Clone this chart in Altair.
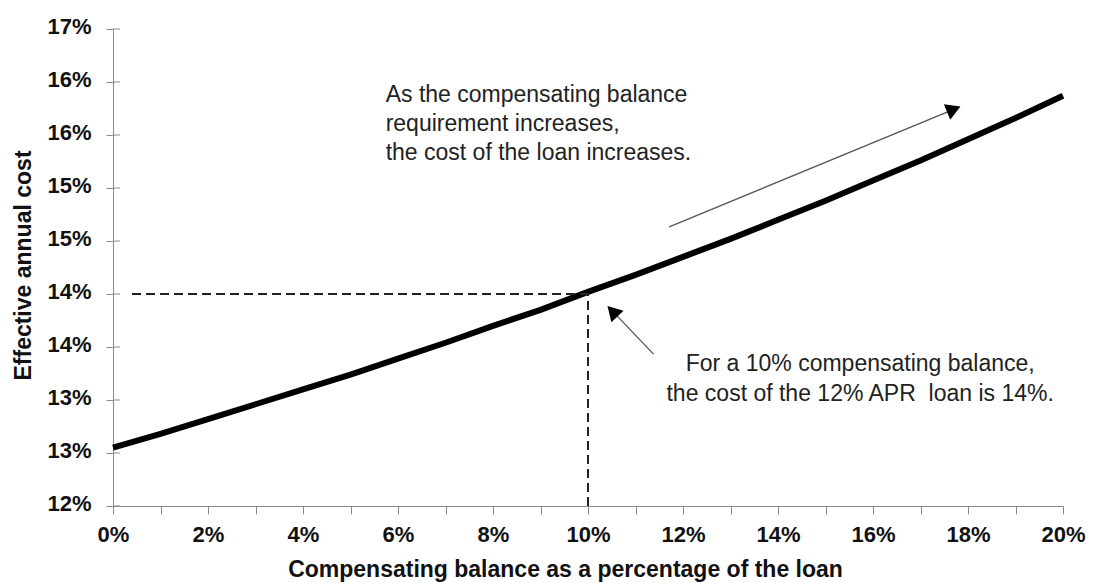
import altair as alt
import pandas as pd

FONT = "Liberation Sans"

# ---- data ----
balance_pct = list(range(0, 21))
effective_cost = [12.55, 12.68, 12.82, 12.96, 13.10, 13.24, 13.39, 13.54, 13.70, 13.85,
                  14.02, 14.18, 14.35, 14.52, 14.70, 14.88, 15.07, 15.26, 15.46, 15.66, 15.87]

y_ticks = [12, 12.5, 13, 13.5, 14, 14.5, 15, 15.5, 16, 16.5]
y_tick_labels = ["12%", "13%", "13%", "14%", "14%", "15%", "15%", "16%", "16%", "17%"]
x_ticks = list(range(0, 21))
x_tick_labels = ["0%", "", "2%", "", "4%", "", "6%", "", "8%", "", "10%", "",
                 "12%", "", "14%", "", "16%", "", "18%", "", "20%"]

# dashed guide lines (10% balance -> 14% cost)
guide_h_x = [0.4, 10]
guide_h_y = [14, 14]
guide_v_x = [10, 10]
guide_v_y = [12, 14]

# arrows: shaft points and head position / direction
arrow1_x = [11.71, 17.70]
arrow1_y = [14.634, 15.742]
arrow1_head = (17.70, 15.742, 67.6)
arrow2_x = [11.38, 10.515]
arrow2_y = [13.433, 13.838]
arrow2_head = (10.515, 13.838, 316.3)

note1_lines = ["As the compensating balance", "requirement increases,",
               "the cost of the loan increases."]
note1_pos = (5.74, 15.811)
note2_lines = ["For a 10% compensating balance,", "the cost of the 12% APR\u00a0 loan is 14%."]
note2_pos = (15.73, 13.271)


def label_expr(values, labels):
    expr = "''"
    for v, l in reversed(list(zip(values, labels))):
        expr = f"datum.value == {v} ? '{l}' : ({expr})"
    return expr


x_scale = alt.Scale(domain=[0, 20], nice=False, zero=False)
y_scale = alt.Scale(domain=[12, 16.5], nice=False, zero=False)

x_axis = alt.Axis(
    values=x_ticks, labelExpr=label_expr(x_ticks, x_tick_labels),
    title="Compensating balance as a percentage of the loan",
    titleFont=FONT, titleFontSize=23, titleFontWeight="bold", titleColor="#111",
    titleX=452, titleY=70, titleAlign="center", titleBaseline="alphabetic",
    labelFont=FONT, labelFontSize=22, labelFontWeight="bold", labelColor="#111",
    labelPadding=10, labelBaseline="top", labelFlush=False, labelOverlap=False,
    tickSize=8, tickColor="#8a8a8a", domainColor="#8a8a8a", grid=False,
)
y_axis = alt.Axis(
    values=y_ticks, labelExpr=label_expr(y_ticks, y_tick_labels),
    title="Effective annual cost",
    titleFont=FONT, titleFontSize=23, titleFontWeight="bold", titleColor="#111",
    titleAngle=270, titleX=-83, titleY=236, titleAlign="center", titleBaseline="alphabetic",
    labelFont=FONT, labelFontSize=22, labelFontWeight="bold", labelColor="#111",
    labelPadding=15, labelOffset=-3, labelFlush=False, labelOverlap=False,
    tickSize=7, tickColor="#8a8a8a", domainColor="#8a8a8a", grid=False,
)


def X():
    return alt.X("x:Q", scale=x_scale, axis=x_axis)


def Y():
    return alt.Y("y:Q", scale=y_scale, axis=y_axis)


curve_df = pd.DataFrame({"x": balance_pct, "y": effective_cost})

base_line = alt.Chart(curve_df).mark_line(color="#000", strokeWidth=6, strokeCap="butt").encode(
    x=X(), y=Y())

guide_h = alt.Chart(pd.DataFrame({"x": guide_h_x, "y": guide_h_y})).mark_line(
    color="#222", strokeWidth=2, strokeDash=[9, 5]).encode(x=X(), y=Y())
guide_v = alt.Chart(pd.DataFrame({"x": guide_v_x, "y": guide_v_y})).mark_line(
    color="#222", strokeWidth=2, strokeDash=[9, 5]).encode(x=X(), y=Y())

inner_ticks = alt.Chart(pd.DataFrame({"y": y_ticks})).mark_rule(
    color="#8a8a8a", strokeWidth=1).encode(
    y=Y(), x=alt.value(0), x2=alt.value(7))

a1 = alt.Chart(pd.DataFrame({"x": arrow1_x, "y": arrow1_y})).mark_line(
    color="#555", strokeWidth=1.3).encode(x=X(), y=Y())
a2 = alt.Chart(pd.DataFrame({"x": arrow2_x, "y": arrow2_y})).mark_line(
    color="#555", strokeWidth=1.3).encode(x=X(), y=Y())

heads_df = pd.DataFrame({
    "x": [arrow1_head[0], arrow2_head[0]],
    "y": [arrow1_head[1], arrow2_head[1]],
    "angle": [arrow1_head[2], arrow2_head[2]],
})
heads = alt.Chart(heads_df).mark_point(
    shape="triangle-up", filled=True, color="#000", size=280, opacity=1).encode(
    x=X(), y=Y(), angle=alt.Angle("angle:Q", scale=None))

note1 = alt.Chart(pd.DataFrame({"x": [note1_pos[0]], "y": [note1_pos[1]]})).mark_text(
    text=note1_lines, font=FONT, fontSize=23, color="#222", align="left",
    baseline="alphabetic", lineHeight=29).encode(x=X(), y=Y())
note2 = alt.Chart(pd.DataFrame({"x": [note2_pos[0]], "y": [note2_pos[1]]})).mark_text(
    text=note2_lines, font=FONT, fontSize=23, color="#222", align="center",
    baseline="alphabetic", lineHeight=29.5).encode(x=X(), y=Y())

chart = alt.layer(
    base_line, guide_h, guide_v, inner_ticks, a1, a2, heads, note1, note2
).properties(
    width=950, height=477,
    padding={"left": 105, "top": 21, "right": 23, "bottom": 78},
    autosize=alt.AutoSizeParams(type="none"),
    background="white",
).configure_view(stroke=None)

chart.save("out.html", embed_options={"renderer": "svg", "actions": False})
